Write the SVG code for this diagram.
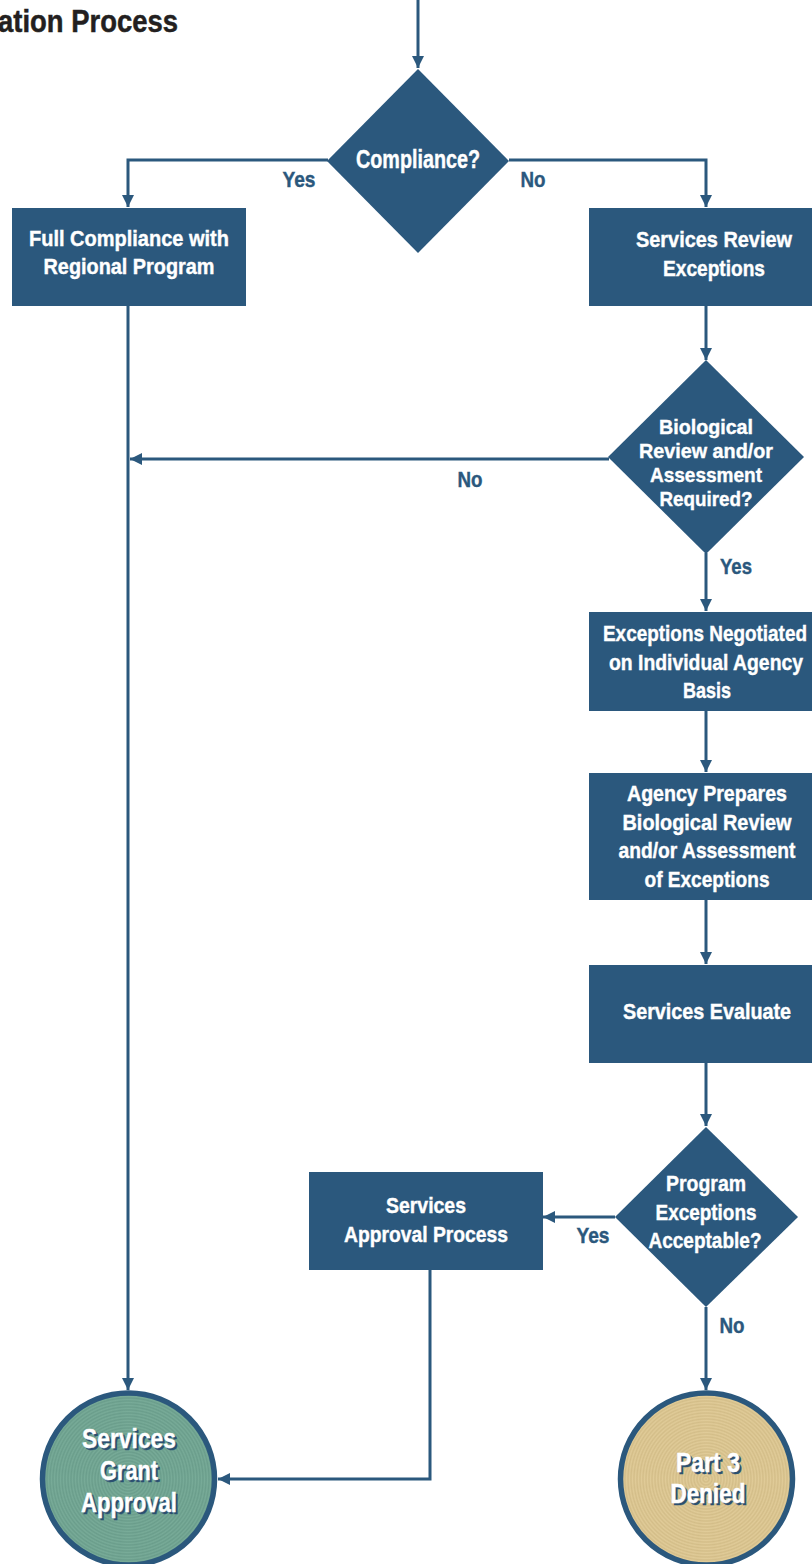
<svg xmlns="http://www.w3.org/2000/svg" width="812" height="1564" viewBox="0 0 812 1564">
<defs>
<style>
.n{fill:#2b587d}
.t{font-family:"Liberation Sans",Arial,sans-serif;font-weight:bold;fill:#ffffff;stroke:#ffffff;stroke-width:0.4;text-anchor:middle}
.l{font-family:"Liberation Sans",Arial,sans-serif;font-weight:bold;fill:#2b587d;stroke:#2b587d;stroke-width:0.4;text-anchor:middle;font-size:22px}
.c{stroke:#2b587d;stroke-width:3;fill:none}
.ct{font-family:"Liberation Sans",Arial,sans-serif;font-weight:bold;fill:#ffffff;stroke:#ffffff;stroke-width:0.4;text-anchor:middle;font-size:27px}
.sh{fill:#2b4f70;stroke:#2b4f70}
</style>
<marker id="ah" markerWidth="14" markerHeight="14" refX="12" refY="6" orient="auto" markerUnits="userSpaceOnUse">
<path d="M0,0 L12,6 L0,12 Z" fill="#2b587d"/>
</marker>
<radialGradient id="gG" gradientUnits="userSpaceOnUse" cx="128" cy="1479" r="3" spreadMethod="repeat">
<stop offset="0" stop-color="#6a9d8b"/>
<stop offset="0.5" stop-color="#78ab98"/>
<stop offset="1" stop-color="#6a9d8b"/>
</radialGradient>
<radialGradient id="gT" gradientUnits="userSpaceOnUse" cx="706" cy="1479" r="3" spreadMethod="repeat">
<stop offset="0" stop-color="#d3bd88"/>
<stop offset="0.5" stop-color="#e0cb98"/>
<stop offset="1" stop-color="#d3bd88"/>
</radialGradient>
</defs>
<rect width="812" height="1564" fill="#ffffff"/>

<text id="title" x="178" y="32" font-family="Liberation Sans,Arial,sans-serif" font-weight="bold" font-size="32" fill="#231f20" stroke="#231f20" stroke-width="0.5" text-anchor="end" textLength="180" lengthAdjust="spacingAndGlyphs">ation Process</text>

<g id="connectors">
<path class="c" d="M418,0 V68" marker-end="url(#ah)"/>
<path class="c" d="M328,160 H128 V207" marker-end="url(#ah)"/>
<path class="c" d="M509,160 H706 V207" marker-end="url(#ah)"/>
<path class="c" d="M706,306 V360" marker-end="url(#ah)"/>
<path class="c" d="M609,459 H130" marker-end="url(#ah)"/>
<path class="c" d="M706,553 V611" marker-end="url(#ah)"/>
<path class="c" d="M706,711 V772" marker-end="url(#ah)"/>
<path class="c" d="M706,900 V964" marker-end="url(#ah)"/>
<path class="c" d="M706,1063 V1126" marker-end="url(#ah)"/>
<path class="c" d="M615,1217 H543" marker-end="url(#ah)"/>
<path class="c" d="M128,306 V1390" marker-end="url(#ah)"/>
<path class="c" d="M430,1270 V1479 H218" marker-end="url(#ah)"/>
<path class="c" d="M706,1307 V1390" marker-end="url(#ah)"/>
<text class="l" x="299" y="187" textLength="33" lengthAdjust="spacingAndGlyphs">Yes</text>
<text class="l" x="533" y="187" textLength="25" lengthAdjust="spacingAndGlyphs">No</text>
<text class="l" x="470" y="487" textLength="25" lengthAdjust="spacingAndGlyphs">No</text>
<text class="l" x="736" y="574" textLength="32" lengthAdjust="spacingAndGlyphs">Yes</text>
<text class="l" x="593" y="1243" textLength="33" lengthAdjust="spacingAndGlyphs">Yes</text>
<text class="l" x="732" y="1333" textLength="25" lengthAdjust="spacingAndGlyphs">No</text>
</g>

<g id="compliance">
<polygon class="n" points="418,69 509,161 418,253 327,161"/>
<text class="t" x="418" y="168" font-size="25" textLength="124" lengthAdjust="spacingAndGlyphs">Compliance?</text>
</g>

<g id="full-compliance">
<rect class="n" x="12" y="208" width="234" height="98"/>
<text class="t" x="129" y="246" font-size="21.5" textLength="200" lengthAdjust="spacingAndGlyphs">Full Compliance with</text>
<text class="t" x="129" y="274" font-size="21.5" textLength="171" lengthAdjust="spacingAndGlyphs">Regional Program</text>
</g>

<g id="services-review">
<rect class="n" x="589" y="208" width="223" height="98"/>
<text class="t" x="714" y="247" font-size="21.5" textLength="156" lengthAdjust="spacingAndGlyphs">Services Review</text>
<text class="t" x="714" y="276" font-size="21.5" textLength="102" lengthAdjust="spacingAndGlyphs">Exceptions</text>
</g>

<g id="bio-review">
<polygon class="n" points="706,360 804,457 706,554 608,457"/>
<text class="t" x="706" y="434" font-size="20.5" textLength="94" lengthAdjust="spacingAndGlyphs">Biological</text>
<text class="t" x="706" y="458" font-size="20.5" textLength="134" lengthAdjust="spacingAndGlyphs">Review and/or</text>
<text class="t" x="706" y="482" font-size="20.5" textLength="112" lengthAdjust="spacingAndGlyphs">Assessment</text>
<text class="t" x="706" y="506" font-size="20.5" textLength="93" lengthAdjust="spacingAndGlyphs">Required?</text>
</g>

<g id="exceptions-negotiated">
<rect class="n" x="589" y="612" width="223" height="99"/>
<text class="t" x="705" y="641" font-size="21.5" textLength="204" lengthAdjust="spacingAndGlyphs">Exceptions Negotiated</text>
<text class="t" x="706" y="670" font-size="21.5" textLength="194" lengthAdjust="spacingAndGlyphs">on Individual Agency</text>
<text class="t" x="707" y="698" font-size="21.5" textLength="48" lengthAdjust="spacingAndGlyphs">Basis</text>
</g>

<g id="agency-prepares">
<rect class="n" x="589" y="773" width="223" height="127"/>
<text class="t" x="707" y="801" font-size="21.5" textLength="160" lengthAdjust="spacingAndGlyphs">Agency Prepares</text>
<text class="t" x="707" y="830" font-size="21.5" textLength="169" lengthAdjust="spacingAndGlyphs">Biological Review</text>
<text class="t" x="707" y="858" font-size="21.5" textLength="177" lengthAdjust="spacingAndGlyphs">and/or Assessment</text>
<text class="t" x="707" y="887" font-size="21.5" textLength="125" lengthAdjust="spacingAndGlyphs">of Exceptions</text>
</g>

<g id="services-evaluate">
<rect class="n" x="589" y="965" width="223" height="98"/>
<text class="t" x="707" y="1019" font-size="21.5" textLength="168" lengthAdjust="spacingAndGlyphs">Services Evaluate</text>
</g>

<g id="program-acceptable">
<polygon class="n" points="706,1127 798,1217 706,1307 615,1217"/>
<text class="t" x="706" y="1191" font-size="22.5" textLength="80" lengthAdjust="spacingAndGlyphs">Program</text>
<text class="t" x="706" y="1220" font-size="22.5" textLength="101" lengthAdjust="spacingAndGlyphs">Exceptions</text>
<text class="t" x="705" y="1248" font-size="22.5" textLength="113" lengthAdjust="spacingAndGlyphs">Acceptable?</text>
</g>

<g id="services-approval">
<rect class="n" x="309" y="1172" width="234" height="98"/>
<text class="t" x="426" y="1213" font-size="21.5" textLength="80" lengthAdjust="spacingAndGlyphs">Services</text>
<text class="t" x="426" y="1242" font-size="21.5" textLength="164" lengthAdjust="spacingAndGlyphs">Approval Process</text>
</g>

<g id="grant-approval">
<circle cx="128.5" cy="1479" r="86" fill="url(#gG)" stroke="#2b587d" stroke-width="5.5"/>
<text class="ct sh" x="131" y="1450" textLength="94" lengthAdjust="spacingAndGlyphs">Services</text>
<text class="ct sh" x="131" y="1482" textLength="58" lengthAdjust="spacingAndGlyphs">Grant</text>
<text class="ct sh" x="131" y="1514" textLength="96" lengthAdjust="spacingAndGlyphs">Approval</text>
<text class="ct" x="129" y="1448" textLength="94" lengthAdjust="spacingAndGlyphs">Services</text>
<text class="ct" x="129" y="1480" textLength="58" lengthAdjust="spacingAndGlyphs">Grant</text>
<text class="ct" x="129" y="1512" textLength="96" lengthAdjust="spacingAndGlyphs">Approval</text>
</g>

<g id="denied">
<circle cx="706.5" cy="1479" r="86" fill="url(#gT)" stroke="#2b587d" stroke-width="5.5"/>
<text class="ct sh" x="710" y="1474" textLength="64" lengthAdjust="spacingAndGlyphs">Part 3</text>
<text class="ct sh" x="710" y="1505" textLength="75" lengthAdjust="spacingAndGlyphs">Denied</text>
<text class="ct" x="708" y="1472" textLength="64" lengthAdjust="spacingAndGlyphs">Part 3</text>
<text class="ct" x="708" y="1503" textLength="75" lengthAdjust="spacingAndGlyphs">Denied</text>
</g>
</svg>
